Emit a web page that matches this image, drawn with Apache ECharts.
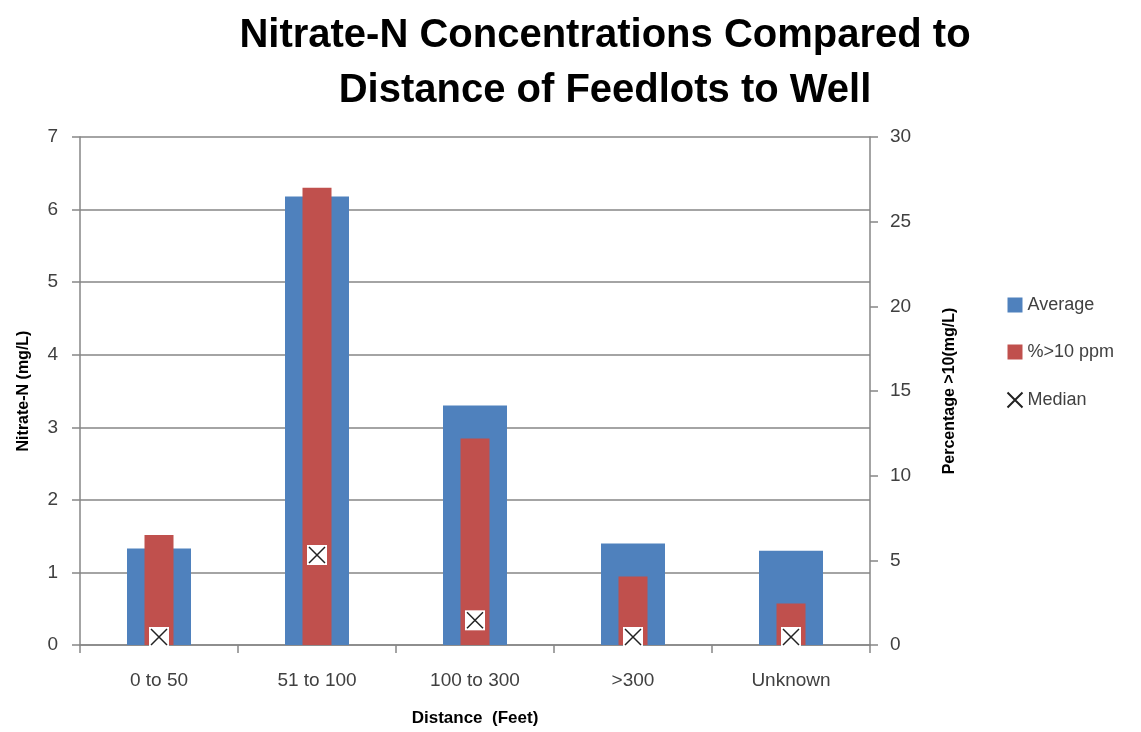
<!DOCTYPE html>
<html><head><meta charset="utf-8">
<script src="https://cdn.jsdelivr.net/npm/echarts@6/dist/echarts.min.js"></script>
<style>html,body{margin:0;padding:0;background:#fff}#c{width:1141px;height:732px}</style>
</head><body><div id="c"></div>
<script>
const categories = ['0 to 50', '51 to 100', '100 to 300', '>300', 'Unknown'];
const averageValues = [1.33, 6.18, 3.30, 1.40, 1.30];
const pctOver10Values = [6.5, 27.0, 12.2, 4.05, 2.45];
const medianValues = [0.11, 1.24, 0.34, 0.11, 0.11];
const leftTicks = { min: 0, max: 7, interval: 1 };
const rightTicks = { min: 0, max: 30, interval: 5 };

const FONT = '"Liberation Sans", "DejaVu Sans", sans-serif';
const axisGray = '#868686';
const textGray = '#404040';

const chart = echarts.init(document.getElementById('c'), null, { renderer: 'canvas' });
chart.setOption({
  animation: false,
  backgroundColor: '#fff',
  title: {
    text: 'Nitrate-N Concentrations Compared to\nDistance of Feedlots to Well',
    left: 600, top: 3, textAlign: 'center',
    textStyle: { fontFamily: FONT, fontSize: 40, fontWeight: 'bold', color: '#000', lineHeight: 55 }
  },
  legend: {
    orient: 'vertical', left: 1000, top: 291, itemGap: 29, itemWidth: 15, itemHeight: 15,
    textStyle: { fontFamily: FONT, fontSize: 18, color: textGray },
    data: [
      { name: 'Average', icon: 'rect' },
      { name: '%>10 ppm', icon: 'rect' },
      { name: 'Median' }
    ]
  },
  grid: { left: 80, right: 271, top: 137, bottom: 87, outerBoundsMode: 'none' },
  xAxis: [{
    type: 'category', data: categories,
    axisLine: { lineStyle: { color: axisGray, width: 1.5 } },
    axisTick: { show: true, length: 8, lineStyle: { color: axisGray, width: 1.5 } },
    axisLabel: { fontFamily: FONT, fontSize: 19, color: textGray, margin: 26 },
    name: 'Distance  (Feet)', nameLocation: 'middle', nameGap: 65,
    nameTextStyle: { fontFamily: FONT, fontSize: 17, fontWeight: 'bold', color: '#000' }
  }, {
    type: 'category', data: categories, show: false
  }],
  yAxis: [{
    type: 'value', min: leftTicks.min, max: leftTicks.max, interval: leftTicks.interval,
    position: 'left',
    axisLine: { show: true, lineStyle: { color: axisGray, width: 1.5 } },
    axisTick: { show: true, length: 8, lineStyle: { color: axisGray, width: 1.5 } },
    splitLine: { show: true, lineStyle: { color: axisGray, width: 1.5 } },
    axisLabel: { fontFamily: FONT, fontSize: 19, color: textGray, margin: 22 },
    name: 'Nitrate-N (mg/L)', nameLocation: 'middle', nameGap: 48, nameRotate: 90,
    nameTextStyle: { fontFamily: FONT, fontSize: 16, fontWeight: 'bold', color: '#000' }
  }, {
    type: 'value', min: rightTicks.min, max: rightTicks.max, interval: rightTicks.interval,
    position: 'right',
    axisLine: { show: true, lineStyle: { color: axisGray, width: 1.5 } },
    axisTick: { show: true, length: 8, lineStyle: { color: axisGray, width: 1.5 } },
    splitLine: { show: false },
    axisLabel: { fontFamily: FONT, fontSize: 19, color: textGray, margin: 20 },
    name: 'Percentage >10(mg/L)', nameLocation: 'middle', nameGap: 72, nameRotate: 90,
    nameTextStyle: { fontFamily: FONT, fontSize: 16, fontWeight: 'bold', color: '#000' }
  }],
  series: [{
    name: 'Average', type: 'bar', xAxisIndex: 0, yAxisIndex: 0,
    data: averageValues, barWidth: 64,
    itemStyle: { color: '#4F81BD' }
  }, {
    name: '%>10 ppm', type: 'bar', xAxisIndex: 1, yAxisIndex: 1,
    data: pctOver10Values, barWidth: 29,
    itemStyle: { color: '#C0504D' }
  }, {
    name: 'MedianBox', type: 'scatter', xAxisIndex: 0, yAxisIndex: 0,
    data: medianValues, symbol: 'rect', symbolSize: 20, z: 5,
    itemStyle: { color: '#ffffff', opacity: 1, borderWidth: 0 },
    emphasis: { disabled: true }
  }, {
    name: 'Median', type: 'scatter', xAxisIndex: 0, yAxisIndex: 0,
    data: medianValues, symbol: 'path://M0,0L10,10M10,0L0,10', symbolSize: 16, z: 6,
    itemStyle: { color: 'none', borderColor: '#222', borderWidth: 1.5, opacity: 1 },
    emphasis: { disabled: true }
  }]
});
</script></body></html>
